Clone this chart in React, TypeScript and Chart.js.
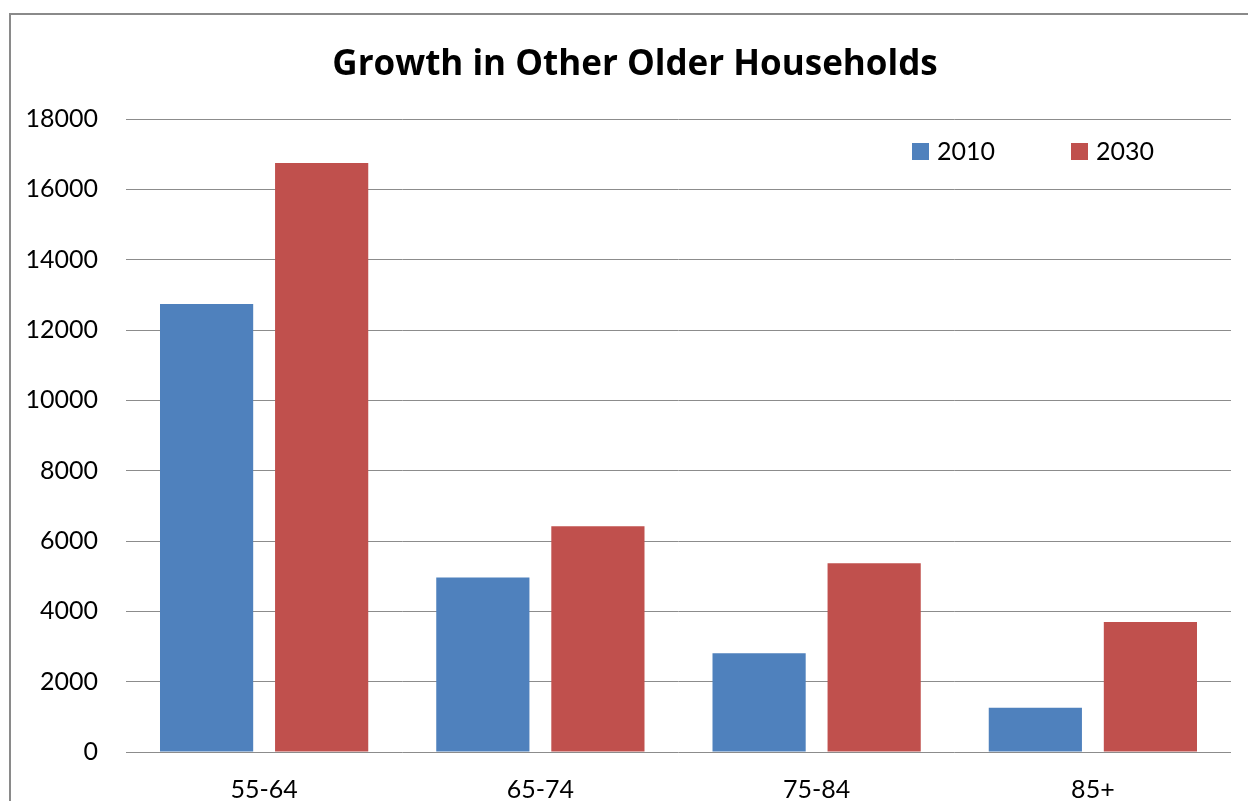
import React, { useEffect, useRef } from "react";
import { Chart, registerables } from "chart.js";

Chart.register(...registerables);

const categories = ["55-64", "65-74", "75-84", "85+"];
const series2010 = [12740, 4960, 2805, 1260];
const series2030 = [16750, 6420, 5370, 3700];
const seriesLabels = ["2010", "2030"];
const seriesColors = ["#4f81bd", "#c0504d"];
const titleText = "Growth in Other Older Households";

const FONT = "Lato, 'Open Sans', sans-serif";
const TITLE_FONT = "'Open Sans', Lato, sans-serif";

const decorPlugin = {
  id: "decor",
  beforeDraw(chart: any) {
    const ctx = chart.ctx;
    ctx.save();
    ctx.fillStyle = "#ffffff";
    ctx.fillRect(0, 0, chart.width, chart.height);
    ctx.strokeStyle = "#8a8a8a";
    ctx.lineWidth = 2;
    ctx.strokeRect(10, 14, chart.width + 40, chart.height + 40);
    ctx.restore();
  },
  afterDraw(chart: any) {
    const ctx = chart.ctx;
    ctx.save();
    // title
    ctx.fillStyle = "#000000";
    ctx.font = `bold 35px ${TITLE_FONT}`;
    ctx.textAlign = "center";
    ctx.textBaseline = "alphabetic";
    ctx.fillText(titleText, 635, 75);
    // legend
    const ds = chart.data.datasets;
    const xs = [912, 1071];
    ctx.font = `25px ${FONT}`;
    ctx.textAlign = "left";
    ctx.textBaseline = "alphabetic";
    ds.forEach((d: any, i: number) => {
      ctx.fillStyle = d.backgroundColor;
      ctx.fillRect(xs[i], 143, 17, 17);
      ctx.fillStyle = "#000000";
      ctx.fillText(d.label, xs[i] + 25, 160);
    });
    ctx.restore();
  },
};

export default function App() {
  const ref = useRef<HTMLCanvasElement | null>(null);
  useEffect(() => {
    if (!ref.current) return;
    const chart = new Chart(ref.current, {
      type: "bar",
      data: {
        labels: categories,
        datasets: [
          { label: seriesLabels[0], data: series2010, backgroundColor: seriesColors[0] },
          { label: seriesLabels[1], data: series2030, backgroundColor: seriesColors[1] },
        ],
      },
      options: {
        responsive: false,
        animation: false,
        layout: { padding: { top: 119, right: 17, left: 0, bottom: 0 } },
        datasets: {
          bar: { categoryPercentage: 0.833, barPercentage: 0.81 },
        },
        plugins: {
          legend: { display: false },
          title: { display: false },
          tooltip: { enabled: false },
        },
        scales: {
          x: {
            grid: { display: false },
            border: { display: false },
            ticks: {
              color: "#000000",
              font: { family: FONT, size: 25 },
              padding: 15,
            },
            afterFit: (scale: any) => {
              scale.height = 49;
            },
          },
          y: {
            min: 0,
            max: 18000,
            grid: { color: "#8c8c8c", lineWidth: 1, drawTicks: false },
            border: { display: false },
            ticks: {
              stepSize: 2000,
              color: "#000000",
              font: { family: FONT, size: 25 },
              padding: 28,
              callback: (v: any) => String(v),
            },
            afterFit: (scale: any) => {
              scale.width = 126;
            },
          },
        },
      },
      plugins: [decorPlugin],
    });
    return () => chart.destroy();
  }, []);
  return (
    <div style={{ position: "fixed", left: 0, top: 0, width: 1248, height: 801, background: "#fff" }}>
      <canvas ref={ref} width={1248} height={801} style={{ display: "block" }} />
    </div>
  );
}
